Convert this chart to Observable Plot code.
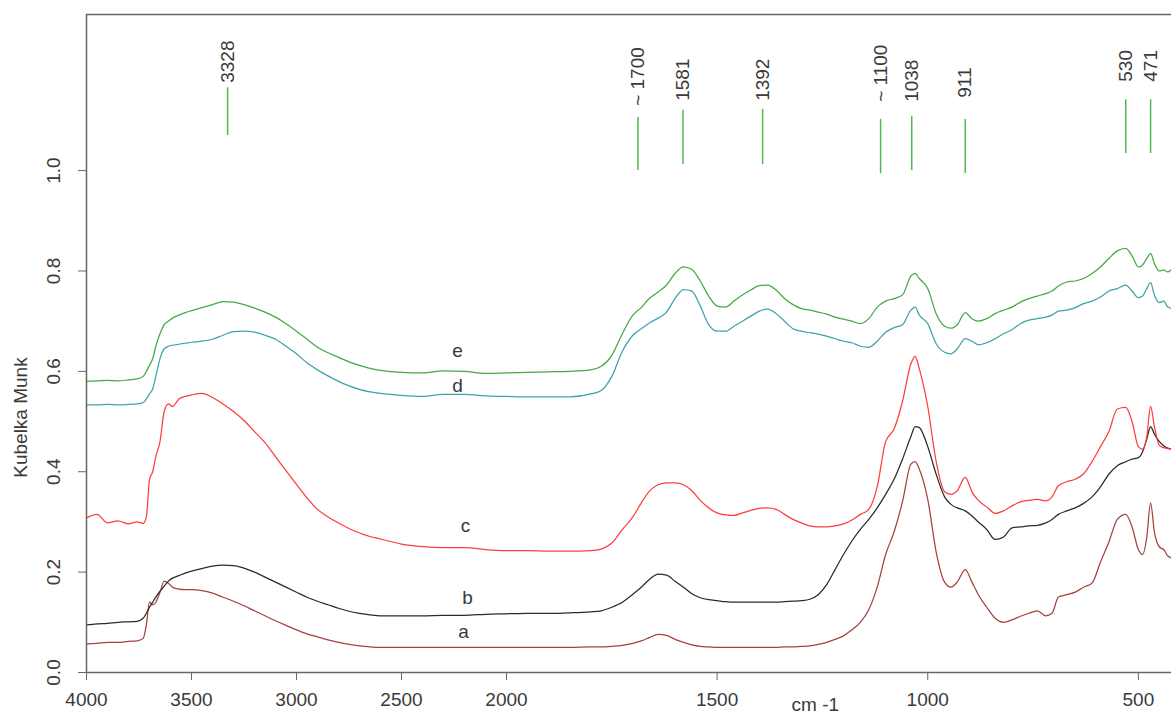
<!DOCTYPE html>
<html><head><meta charset="utf-8">
<script src="https://cdn.jsdelivr.net/npm/d3@7"></script>
<script src="https://cdn.jsdelivr.net/npm/@observablehq/plot@0.6"></script>
<style>
body{margin:0;background:#fff;}
#chart{width:1171px;height:715px;overflow:hidden;}
</style>
</head><body><div id="chart"></div>
<script>
// wavenumbers (cm-1)
const wavenumbers = [4000,3950,3900,3850,3800,3760,3730,3715,3700,3685,
 3670,3650,3630,3610,3590,3560,3530,3500,3450,3400,
 3350,3300,3250,3200,3150,3100,3050,3000,2950,2900,
 2850,2800,2750,2700,2650,2600,2500,2400,2300,2200,
 2100,2000,1950,1900,1850,1800,1775,1750,1725,1700,
 1680,1660,1640,1620,1600,1580,1560,1540,1520,1500,
 1480,1460,1440,1420,1400,1380,1360,1340,1320,1300,
 1280,1260,1240,1220,1200,1180,1160,1140,1120,1100,
 1080,1060,1040,1030,1020,1000,980,960,945,930,
 911,895,880,860,840,820,800,780,760,740,
 720,705,690,670,650,630,610,590,570,550,
 530,515,500,490,480,471,462,450,440,430,
 420];

const seriesA = [0.057,0.058,0.060,0.060,0.062,0.063,0.068,0.095,0.140,0.135,
 0.140,0.160,0.182,0.178,0.170,0.166,0.165,0.165,0.163,0.158,
 0.150,0.142,0.133,0.123,0.113,0.103,0.094,0.085,0.077,0.071,
 0.065,0.060,0.056,0.053,0.051,0.050,0.050,0.050,0.050,0.050,
 0.050,0.050,0.050,0.050,0.050,0.051,0.051,0.052,0.054,0.058,
 0.063,0.070,0.076,0.074,0.066,0.060,0.055,0.052,0.051,0.050,
 0.050,0.050,0.050,0.050,0.050,0.050,0.050,0.051,0.051,0.052,
 0.053,0.056,0.060,0.066,0.073,0.085,0.100,0.125,0.170,0.235,
 0.280,0.340,0.415,0.420,0.405,0.345,0.240,0.180,0.170,0.180,
 0.205,0.180,0.155,0.130,0.108,0.100,0.105,0.112,0.118,0.123,
 0.113,0.118,0.150,0.155,0.160,0.170,0.178,0.220,0.260,0.305,
 0.315,0.290,0.245,0.235,0.270,0.338,0.280,0.250,0.245,0.232,
 0.228];

const seriesB = [0.095,0.097,0.098,0.100,0.101,0.102,0.108,0.118,0.130,0.140,
 0.150,0.162,0.172,0.182,0.188,0.193,0.198,0.202,0.207,0.212,
 0.214,0.213,0.208,0.200,0.190,0.180,0.170,0.160,0.150,0.142,
 0.135,0.128,0.122,0.118,0.115,0.113,0.113,0.113,0.114,0.114,
 0.116,0.117,0.118,0.118,0.119,0.121,0.123,0.130,0.140,0.156,
 0.170,0.186,0.196,0.194,0.182,0.170,0.157,0.149,0.145,0.143,
 0.141,0.140,0.140,0.140,0.140,0.140,0.140,0.141,0.142,0.143,
 0.146,0.155,0.175,0.205,0.235,0.262,0.285,0.305,0.328,0.355,
 0.385,0.425,0.470,0.490,0.488,0.450,0.395,0.350,0.335,0.328,
 0.322,0.312,0.300,0.285,0.265,0.270,0.288,0.290,0.292,0.293,
 0.298,0.305,0.315,0.322,0.328,0.337,0.350,0.370,0.395,0.412,
 0.420,0.425,0.428,0.440,0.465,0.490,0.475,0.460,0.452,0.447,
 0.445];

const seriesC = [0.308,0.315,0.298,0.302,0.296,0.300,0.297,0.310,0.385,0.400,
 0.430,0.460,0.520,0.535,0.530,0.545,0.550,0.553,0.556,0.548,
 0.535,0.520,0.502,0.480,0.458,0.430,0.402,0.375,0.348,0.325,
 0.310,0.298,0.287,0.278,0.271,0.266,0.256,0.251,0.249,0.249,
 0.245,0.243,0.243,0.242,0.242,0.243,0.246,0.258,0.285,0.310,
 0.338,0.362,0.374,0.378,0.378,0.374,0.362,0.343,0.328,0.318,
 0.314,0.313,0.318,0.323,0.327,0.328,0.325,0.315,0.305,0.298,
 0.292,0.290,0.290,0.292,0.296,0.304,0.315,0.325,0.370,0.460,
 0.485,0.540,0.615,0.630,0.605,0.530,0.420,0.360,0.355,0.362,
 0.389,0.360,0.343,0.330,0.317,0.322,0.332,0.340,0.343,0.345,
 0.342,0.350,0.372,0.380,0.385,0.396,0.420,0.450,0.480,0.525,
 0.528,0.500,0.450,0.445,0.470,0.530,0.490,0.452,0.448,0.446,
 0.445];

const seriesD = [0.533,0.533,0.534,0.533,0.534,0.535,0.538,0.545,0.555,0.565,
 0.590,0.625,0.645,0.650,0.652,0.654,0.656,0.658,0.660,0.664,
 0.672,0.679,0.680,0.678,0.672,0.664,0.650,0.635,0.617,0.603,
 0.591,0.580,0.571,0.564,0.559,0.556,0.552,0.550,0.554,0.554,
 0.551,0.550,0.549,0.549,0.549,0.555,0.562,0.590,0.640,0.672,
 0.685,0.697,0.706,0.718,0.745,0.763,0.760,0.730,0.693,0.680,
 0.680,0.690,0.700,0.710,0.720,0.724,0.715,0.700,0.685,0.680,
 0.677,0.674,0.670,0.665,0.660,0.657,0.650,0.648,0.660,0.678,
 0.687,0.693,0.722,0.728,0.712,0.695,0.655,0.638,0.635,0.645,
 0.665,0.660,0.653,0.657,0.665,0.675,0.683,0.695,0.702,0.705,
 0.708,0.712,0.720,0.722,0.727,0.735,0.740,0.748,0.760,0.765,
 0.772,0.760,0.747,0.750,0.765,0.777,0.752,0.737,0.740,0.728,
 0.725];

const seriesE = [0.580,0.581,0.582,0.581,0.583,0.585,0.590,0.600,0.612,0.625,
 0.650,0.675,0.693,0.700,0.706,0.712,0.717,0.721,0.727,0.733,
 0.739,0.738,0.733,0.726,0.718,0.708,0.695,0.680,0.664,0.648,
 0.637,0.628,0.619,0.612,0.606,0.602,0.598,0.597,0.601,0.600,
 0.596,0.597,0.598,0.599,0.600,0.603,0.610,0.632,0.675,0.712,
 0.727,0.746,0.758,0.772,0.795,0.808,0.803,0.780,0.750,0.730,
 0.728,0.740,0.752,0.762,0.771,0.772,0.762,0.745,0.733,0.725,
 0.722,0.718,0.714,0.708,0.704,0.700,0.695,0.705,0.728,0.740,
 0.745,0.752,0.790,0.795,0.785,0.765,0.715,0.690,0.686,0.693,
 0.717,0.705,0.700,0.705,0.715,0.722,0.728,0.738,0.745,0.750,
 0.755,0.760,0.770,0.778,0.780,0.785,0.795,0.808,0.825,0.840,
 0.845,0.830,0.808,0.812,0.825,0.835,0.815,0.800,0.802,0.798,
 0.805];

const seriesNames = ["a","b","c","d","e"];
const seriesColors = ["#a3423f","#2b2b2b","#ff3c3c","#3ea2aa","#46a846"];
const curveLabelX = [2205,2186,2195,2233,2233];
const curveLabelY = [0.080,0.149,0.293,0.572,0.641];

const peakPositions = [3328,1688,1581,1392,1112,1038,911,530,471];
const peakLabels = ["3328","~ 1700","1581","1392","~ 1100","1038","911","530","471"];
const peakLineTop = [1.165,1.106,1.120,1.122,1.102,1.108,1.102,1.141,1.141];
const peakLineBottom = [1.070,1.000,1.012,1.012,0.994,1.000,0.994,1.034,1.034];
const peakLabelBase = [1.175,1.129,1.139,1.139,1.137,1.137,1.145,1.177,1.177];

const xTicks = [4000,3500,3000,2500,2000,1500,1000,500];
const yTicks = [0,0.2,0.4,0.6,0.8,1.0];
const yMax = 1.311;
const xBreaks = [4000,2000,400];
const xLabelText = "cm -1";
const xLabelAt = 1267;
const yLabelText = "Kubelka Munk";
const yLabelAt = 0.508;

const allSeries = [seriesA,seriesB,seriesC,seriesD,seriesE];
const rows = [];
seriesNames.forEach((s,i)=>wavenumbers.forEach((w,j)=>rows.push({series:s, wn:w, km:allSeries[i][j], color:seriesColors[i]})));
const peaks = peakPositions.map((p,i)=>({pos:p,label:peakLabels[i],y1:peakLineBottom[i],y2:peakLineTop[i],ly:peakLabelBase[i]}));
const curveLabels = seriesNames.map((s,i)=>({s, x:curveLabelX[i], y:curveLabelY[i]}));

const textColor = "#3a3a3a";
const axisColor = "#666";
const fs = 19;

const chart = Plot.plot({
  width:1171, height:715,
  marginLeft:86, marginTop:14, marginBottom:43, marginRight:0,
  style:{fontFamily:"'Liberation Sans', Arial, sans-serif", fontSize:fs+"px", color:textColor, background:"#fff", overflow:"hidden"},
  x:{type:"linear", domain:xBreaks, range:[86,506,1180], label:null},
  y:{domain:[0,yMax], range:[672,14], label:null},
  marks:[
    Plot.line(rows,{x:"wn",y:"km",z:"series",stroke:"color",strokeWidth:1.25,curve:"monotone-x"}),
    Plot.ruleX(peaks,{x:"pos",y1:"y1",y2:"y2",stroke:"#4fb84f",strokeWidth:1.5}),
    Plot.text(peaks,{x:"pos",y:"ly",text:"label",rotate:-90,textAnchor:"start",lineAnchor:"middle",fill:textColor,fontSize:fs}),
    Plot.text(curveLabels,{x:"x",y:"y",text:"s",fill:textColor,fontSize:fs,textAnchor:"middle",lineAnchor:"middle"}),
    Plot.ruleY([0],{stroke:axisColor,strokeWidth:1.5}),
    Plot.ruleY([yMax],{stroke:axisColor,strokeWidth:1.5}),
    Plot.ruleX([xBreaks[0]],{stroke:axisColor,strokeWidth:1.5}),
    Plot.axisX({ticks:xTicks, tickSize:8, tickPadding:12, tickFormat:d=>String(d), label:null, stroke:axisColor, fill:textColor, fontSize:fs}),
    Plot.axisY({ticks:yTicks, tickSize:8, tickFormat:()=>"", label:null, stroke:axisColor}),
    Plot.text(yTicks,{frameAnchor:"left", y:d=>d, text:d=>d.toFixed(1), rotate:-90, textAnchor:"middle", lineAnchor:"bottom", dx:-27, fill:textColor, fontSize:fs}),
    Plot.text([xLabelText],{x:()=>xLabelAt, frameAnchor:"bottom", dy:32, textAnchor:"middle", lineAnchor:"middle", fill:textColor, fontSize:fs}),
    Plot.text([yLabelText],{frameAnchor:"left", y:()=>yLabelAt, rotate:-90, dx:-66, textAnchor:"middle", lineAnchor:"middle", fill:textColor, fontSize:fs})
  ]
});
document.getElementById("chart").appendChild(chart);
</script>
</body></html>
